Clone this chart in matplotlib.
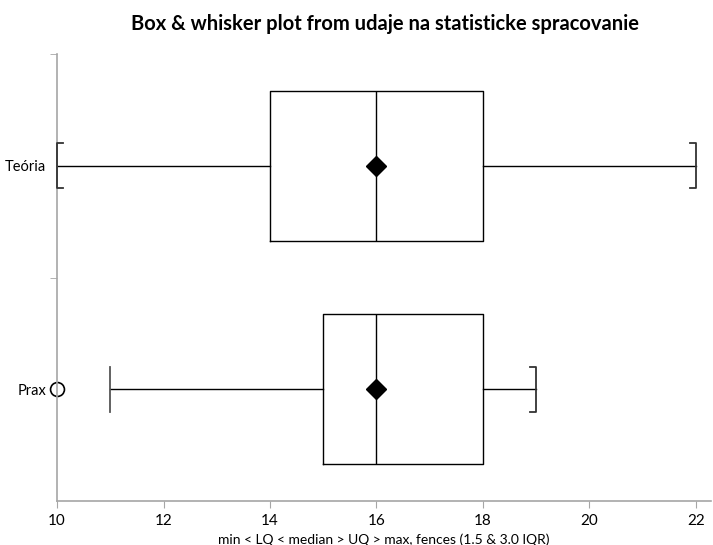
import matplotlib
matplotlib.use("Agg")
from matplotlib import pyplot as plt
import numpy as np

plt.rcParams['font.family'] = ['Lato', 'DejaVu Sans']

# data
groups = ["Prax", "Teória"]
whisk_lo = [11, 10]
q1 = [15, 14]
medians = [16, 16]
means = [16, 16]
q3 = [18, 18]
whisk_hi = [19, 22]
outliers = [[10], []]
# which caps are drawn as brackets (lo, hi)
bracket_lo = [False, True]
bracket_hi = [True, True]

title = "Box & whisker plot from udaje na statisticke spracovanie"
xlabel = "min < LQ < median > UQ > max, fences (1.5 & 3.0 IQR)"

grey = "#a6a6a6"

fig = plt.figure(figsize=(7.13, 5.45), dpi=100)
ax = fig.add_axes([0.080, 0.0807, 0.917, 0.8202])

pos = np.arange(len(groups)) + 0.5
stats = []
for i in range(len(groups)):
    stats.append({"whislo": whisk_lo[i], "q1": q1[i], "med": medians[i], "q3": q3[i],
                  "whishi": whisk_hi[i], "mean": means[i], "fliers": outliers[i]})

ax.bxp(stats, positions=pos, widths=0.67, vert=False, showcaps=False, showmeans=True,
       boxprops=dict(color="black", linewidth=1),
       whiskerprops=dict(color="black", linewidth=1),
       medianprops=dict(color="black", linewidth=1),
       meanprops=dict(marker="D", markerfacecolor="black", markeredgecolor="black",
                      markersize=10.5),
       flierprops=dict(marker="o", markerfacecolor="white", markeredgecolor="black",
                       markersize=10, markeredgewidth=1.2, clip_on=False))

# caps
h = 0.1
arm = 0.11
for i, p in enumerate(pos):
    lo, hi = whisk_lo[i], whisk_hi[i]
    if bracket_lo[i]:
        ax.plot([lo + arm, lo, lo, lo + arm], [p - h, p - h, p + h, p + h],
                color="#333333", linewidth=1.3, clip_on=False, zorder=4)
    else:
        ax.plot([lo, lo], [p - h, p + h], color="#555555", linewidth=1.3, zorder=4)
    if bracket_hi[i]:
        ax.plot([hi - arm, hi, hi, hi - arm], [p - h, p - h, p + h, p + h],
                color="#333333", linewidth=1.3, clip_on=False, zorder=4)
    else:
        ax.plot([hi, hi], [p - h, p + h], color="#555555", linewidth=1.3, zorder=4)

ax.set_xlim(10, 22.28)
ax.set_ylim(0, len(groups))
ax.set_xticks(np.arange(10, 23, 2))
ax.set_yticks(pos)
ax.set_yticklabels(groups)
ax.set_yticks(np.arange(1, len(groups) + 1), minor=True)
ax.tick_params(axis="y", which="major", length=0, pad=8, labelsize=10.5)
ax.tick_params(axis="y", which="minor", length=5, color=grey)
ax.tick_params(axis="x", length=5, color=grey, labelsize=11, pad=4)

for s in ["top", "right"]:
    ax.spines[s].set_visible(False)
for s in ["left", "bottom"]:
    ax.spines[s].set_color(grey)
    ax.spines[s].set_linewidth(1.2)

ax.set_xlabel(xlabel, fontsize=10, labelpad=4)
fig.suptitle(title, fontsize=14.5, fontweight="bold", x=0.54, y=0.975)

plt.savefig("out.png", dpi=100)
